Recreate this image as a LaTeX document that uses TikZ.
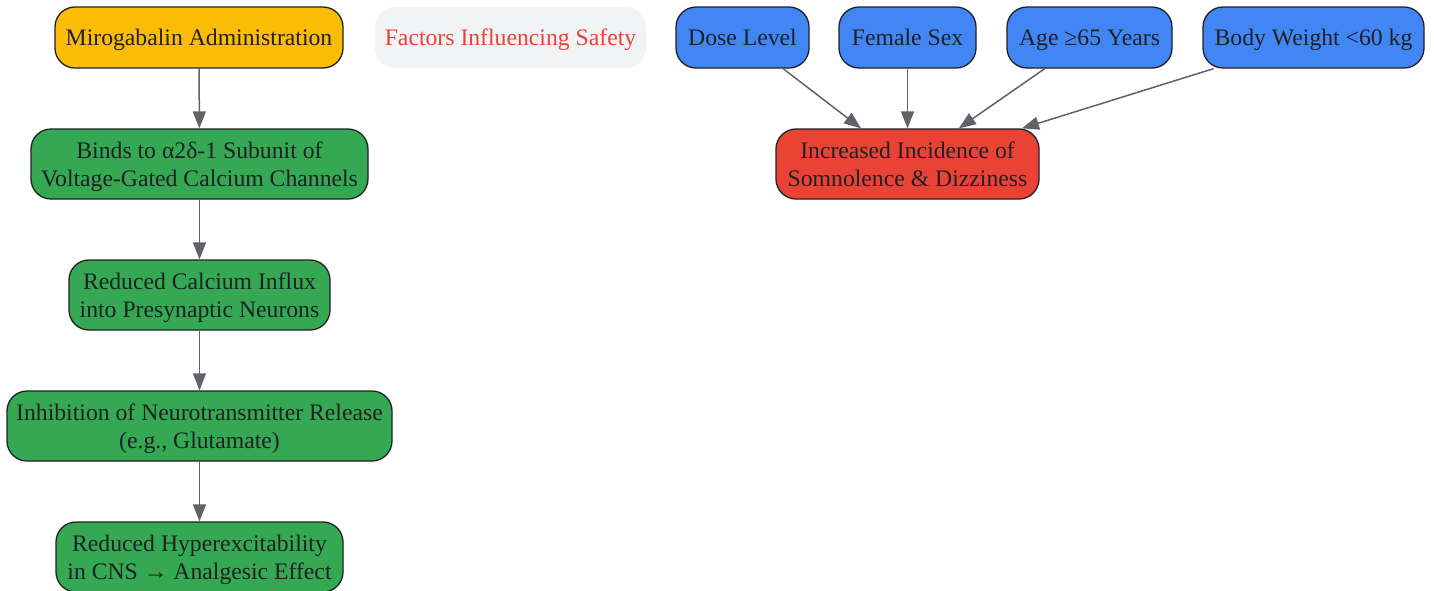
\documentclass[tikz,border=0pt]{standalone}
\usepackage{fontspec}
\setmainfont{Liberation Serif}
\usetikzlibrary{arrows.meta}
\definecolor{cyellow}{HTML}{FBBC05}
\definecolor{cgreen}{HTML}{34A853}
\definecolor{cblue}{HTML}{4285F4}
\definecolor{cred}{HTML}{EA4335}
\definecolor{cgrey}{HTML}{F1F3F4}
\definecolor{ctext}{HTML}{202124}
\definecolor{cedge}{HTML}{5F6368}
\tikzset{
  box/.style={rectangle, rounded corners=20pt, draw=ctext, line width=1.3pt, text=ctext, inner sep=0pt, align=center,
    font=\fontsize{23.7}{28}\selectfont},
  one/.style={box, text height=15.6pt, text depth=0pt, minimum height=61pt},
  two/.style={box, text depth=-3pt, minimum height=70pt},
  conn/.style={draw=cedge, line width=1.5pt, -{Triangle[length=17pt,width=13pt]}},
}
\begin{document}
\begin{tikzpicture}[x=1pt,y=-1pt]
\useasboundingbox (0,0) rectangle (1434,590);
\node[one, fill=cyellow, minimum width=288pt] (miro) at (199,37.5) {Mirogabalin Administration};
\node[one, fill=cgrey, draw=none, text=cred, minimum width=271pt] (fact) at (510.5,37.5) {Factors Influencing Safety};
\node[two, fill=cgreen, minimum width=337pt] (binds) at (199.5,164) {Binds to α2δ-1 Subunit of\\Voltage-Gated Calcium Channels};
\node[two, fill=cgreen, minimum width=261pt] (calc) at (199.5,295) {Reduced Calcium Influx\\into Presynaptic Neurons};
\node[two, fill=cgreen, minimum width=385pt] (inhib) at (199.5,426) {Inhibition of Neurotransmitter Release\\(e.g., Glutamate)};
\node[two, fill=cgreen, minimum width=287pt] (hyper) at (199.5,557) {Reduced Hyperexcitability\\in CNS → Analgesic Effect};
\node[one, fill=cblue, minimum width=133pt] (dose) at (742.5,37.5) {Dose Level};
\node[one, fill=cblue, minimum width=137pt] (fem) at (907.5,37.5) {Female Sex};
\node[one, fill=cblue, minimum width=165pt] (age) at (1089.5,37.5) {Age ≥65 Years};
\node[one, fill=cblue, minimum width=221pt] (body) at (1313.5,37.5) {Body Weight <60 kg};
\node[two, fill=cred, minimum width=263pt] (inc) at (907.5,164) {Increased Incidence of\\Somnolence \& Dizziness};
\draw[conn] (miro) -- (binds);
\draw[conn] (binds) -- (calc);
\draw[conn] (calc) -- (inhib);
\draw[conn] (inhib) -- (hyper);
\draw[conn] (dose) -- (inc);
\draw[conn] (fem) -- (inc);
\draw[conn] (age) -- (inc);
\draw[conn] (body) -- (inc);
\end{tikzpicture}
\end{document}
